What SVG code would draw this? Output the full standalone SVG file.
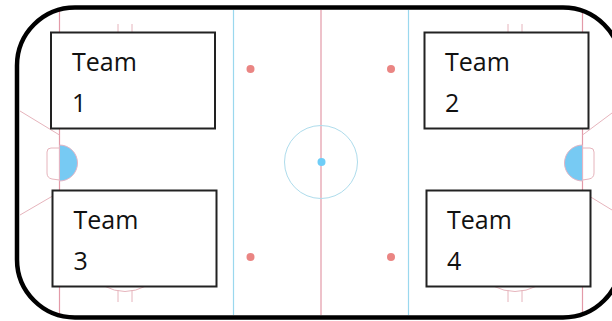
<svg xmlns="http://www.w3.org/2000/svg" width="612" height="321" viewBox="0 0 612 321">
<style>
.red{fill:none;stroke:#e6b4bc;stroke-width:1}
.redb{fill:none;stroke:#e39aa8;stroke-width:1.2}
.blue{fill:none;stroke:#9ad8ee;stroke-width:1.2}
.thin{fill:none;stroke:#aedcec;stroke-width:1}
.crease{fill:#77caf3;stroke:#e3b5c4;stroke-width:1}
.dot{fill:#ea8583}
.box{fill:#fff;stroke:#222;stroke-width:2}
text{font-family:"Open Sans","Noto Sans",sans-serif;font-size:25px;fill:#111}
</style>
<rect width="612" height="321" fill="#fff"/>
<g id="rink-markings">
<path class="redb" d="M59.500 11V315M582.500 11V315M321 10V315"/>
<path class="blue" d="M233.500 10V315M408.500 10V315"/>
<circle class="thin" cx="321" cy="162" r="36.500"/>
<circle cx="321.500" cy="162" r="4" fill="#6fcdf7"/>
<circle class="dot" cx="250.500" cy="69" r="4"/>
<circle class="dot" cx="391" cy="69" r="4"/>
<circle class="dot" cx="250.500" cy="257" r="4"/>
<circle class="dot" cx="391" cy="257" r="4"/>
<path class="red" d="M20 111L59.500 135M20 215L59.500 192M612 113L582.500 135M612 210L582.500 192"/>
<path class="red" d="M118 24V34M132 24V34M508 24V34M522 24V34M118 290V302M132 290V302M508 290V302M522 290V302"/>
<path class="red" d="M104 286Q125 297 146 286M493 286Q515 297 537 286"/>
<path class="red" d="M59.500 148H51Q47 148 47 152V173Q47 178 52 179L59.500 180M582.500 148H590Q594 148 594 152V173Q594 178 589 179L582.500 180"/>
<path class="crease" d="M59.500 145A18 18 0 0 1 59.500 181Z"/>
<path class="crease" d="M582.500 145A18 18 0 0 0 582.500 181Z"/>
</g>
<rect id="rink-boards" x="17" y="7.500" width="604" height="310" rx="58" ry="58" fill="none" stroke="#000" stroke-width="4.500"/>
<g id="team1"><rect class="box" x="51" y="32.500" width="164" height="96"/><text x="72" y="70.500">Team</text><text x="72" y="112">1</text></g>
<g id="team2"><rect class="box" x="424.500" y="32.500" width="164" height="96"/><text x="445" y="70.500">Team</text><text x="445" y="112">2</text></g>
<g id="team3"><rect class="box" x="52.500" y="190.500" width="164" height="96"/><text x="73.500" y="228.500">Team</text><text x="73.500" y="270">3</text></g>
<g id="team4"><rect class="box" x="426.500" y="190.500" width="164" height="96"/><text x="447" y="228.500">Team</text><text x="447" y="270">4</text></g>
</svg>
